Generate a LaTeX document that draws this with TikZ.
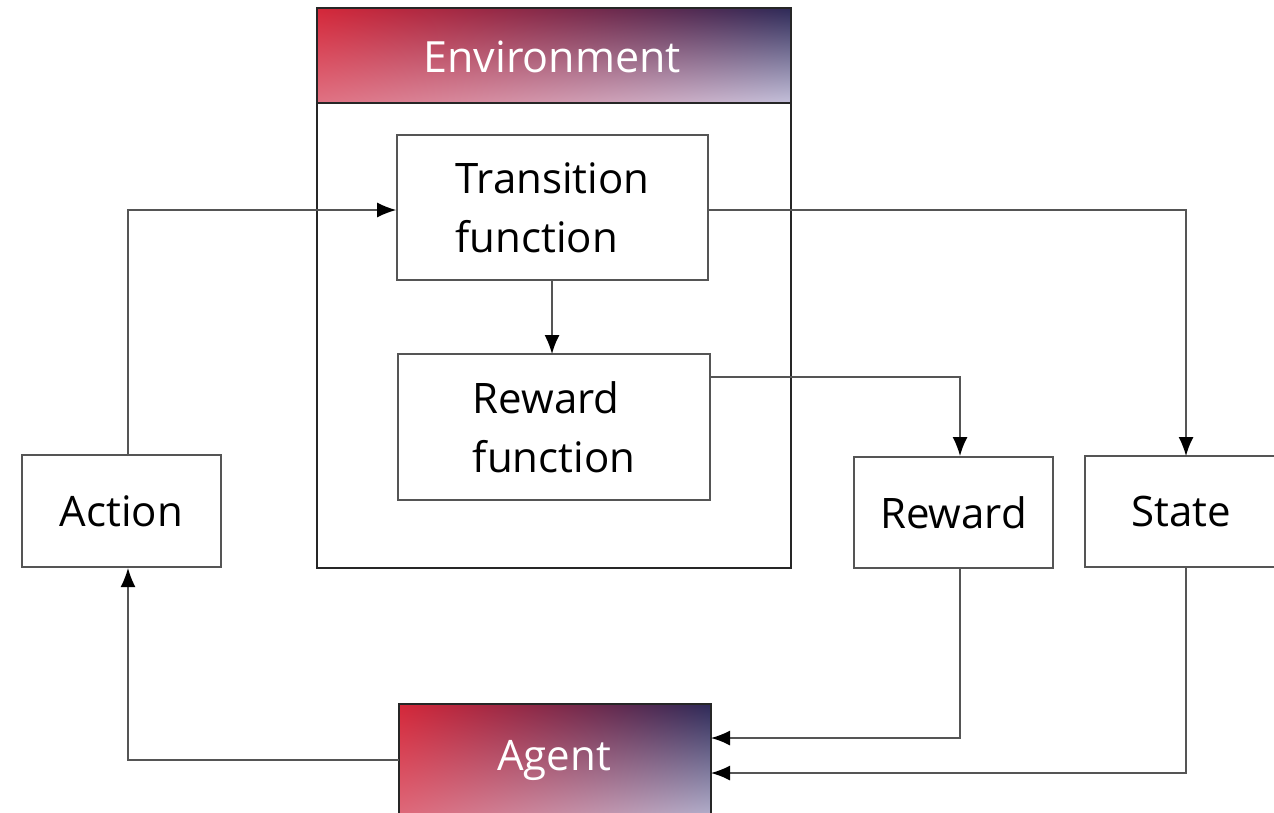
\documentclass[tikz,border=0pt]{standalone}
\usepackage{fontspec}
\setmainfont{Open Sans}
\usetikzlibrary{arrows.meta,shadings}
\definecolor{linegray}{HTML}{555555}
\definecolor{gUL}{HTML}{D42739}
\definecolor{gUR}{HTML}{2E2A58}
\definecolor{gLL}{HTML}{E07283}
\definecolor{gLR}{HTML}{C4C0DA}
\tikzset{
  box/.style={draw=linegray, line width=1.6pt, fill=white, font=\fontsize{42}{59}\selectfont, align=left, inner sep=0pt},
  conn/.style={draw=linegray, line width=1.5pt, -{Latex[length=19pt,width=15pt,fill=black,color=black]}},
  gradbox/.style={draw=black!85, line width=2pt, upper left=gUL, upper right=gUR, lower left=gLL, lower right=gLR},
}
\begin{document}
\begin{tikzpicture}[x=1pt,y=-1pt]
\useasboundingbox (0,0) rectangle (1274,812);
\clip (0,0) rectangle (1274,812);
% environment
\draw[black!85, line width=2pt] (317,8) rectangle (791,568);
\shade[gradbox] (317,8) rectangle (791,103);
\node[text=white, font=\fontsize{43}{50}\selectfont] (env) at (552,57) {Environment};
% inner boxes
\node[box, minimum width=311pt, minimum height=145pt] (trans) at (552.5,207.5) {Transition\\function};
\node[box, minimum width=312pt, minimum height=146pt] (rewf) at (554,427) {Reward\\function};
\node[box, minimum width=199pt, minimum height=112pt] (action) at (121.5,511) {Action};
\node[box, minimum width=199pt, minimum height=111pt] (reward) at (953.5,512.5) {Reward};
\node[box, minimum width=200pt, minimum height=111pt] (state) at (1185,511.5) {\raisebox{-3pt}{State}\hspace*{8pt}};
% agent
\shade[gradbox] (399,704) rectangle (711,830);
\node[text=white, font=\fontsize{42}{50}\selectfont] (agent) at (554,760) {Agent};
\coordinate (agentW) at (399,760);
\coordinate (agentE1) at (711,738);
\coordinate (agentE2) at (711,773);
% connectors
\draw[conn] (128,456) |- (trans.west |- 0,210);
\draw[conn] (552,280) -- (552,354);
\draw[conn] (trans.east |- 0,210) -| (1186,456);
\draw[conn] (rewf.east |- 0,377) -| (960,456);
\draw[conn] (960,567) |- (agentE1);
\draw[conn] (1186,567) |- (agentE2);
\draw[conn] (agentW) -| (128,568);
\end{tikzpicture}
\end{document}
